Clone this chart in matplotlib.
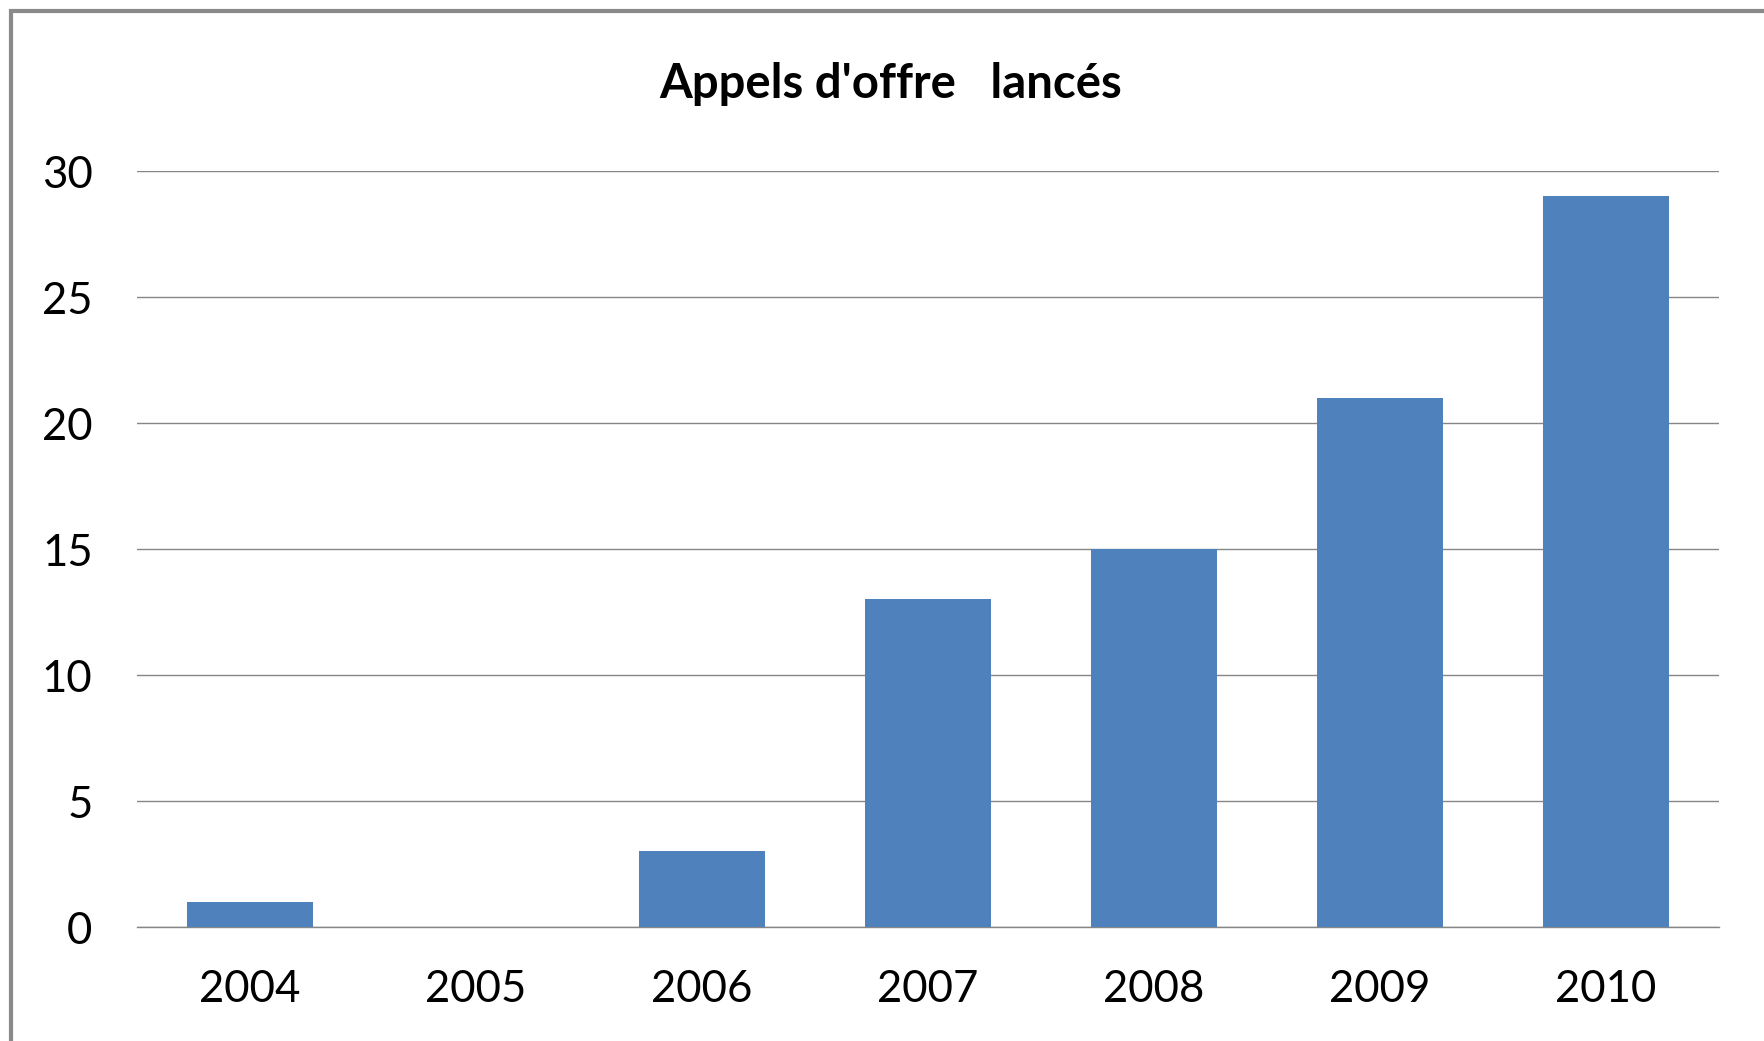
import matplotlib
matplotlib.use('Agg')
import matplotlib.pyplot as plt
from matplotlib.patches import Rectangle

years = ['2004', '2005', '2006', '2007', '2008', '2009', '2010']
appels = [1, 0, 3, 13, 15, 21, 29]
y_ticks = [0, 5, 10, 15, 20, 25, 30]
title = "Appels d'offre   lancés"

plt.rcParams['font.family'] = ['Lato', 'DejaVu Sans']

W, H = 1764, 1041
fig = plt.figure(figsize=(W / 100, H / 100), dpi=100)
ax = fig.add_axes([137 / W, 1 - 927 / H, (1719 - 137) / W, (927 - 171) / H])

x = range(len(years))
ax.bar(x, appels, width=0.555, color='#4F81BD', zorder=3)

ax.set_xlim(-0.5, len(years) - 0.5)
ax.set_ylim(0, 30)
ax.set_yticks(y_ticks)
ax.set_xticks(list(x))
ax.set_xticklabels(years)
ax.yaxis.grid(True, color='#868686', linewidth=1.0, zorder=0)
ax.tick_params(axis='both', length=0, labelsize=31.5, colors='black')
ax.tick_params(axis='y', pad=32)
ax.tick_params(axis='x', pad=30)
for s in ['top', 'right', 'left']:
    ax.spines[s].set_visible(False)
ax.spines['bottom'].set_color('#868686')
ax.spines['bottom'].set_linewidth(1.0)

fig.text(891 / W, 1 - 84 / H, title, ha='center', va='center',
         fontsize=34, fontweight='bold')

# outer chart border (cut off at right and bottom in the reference)
fig.add_artist(Rectangle((11 / W, -0.1), 1.2, 1 - 11 / H + 0.1,
                         transform=fig.transFigure, fill=False,
                         edgecolor='#8a8a8a', linewidth=3))

fig.savefig('out.png', dpi=100)
